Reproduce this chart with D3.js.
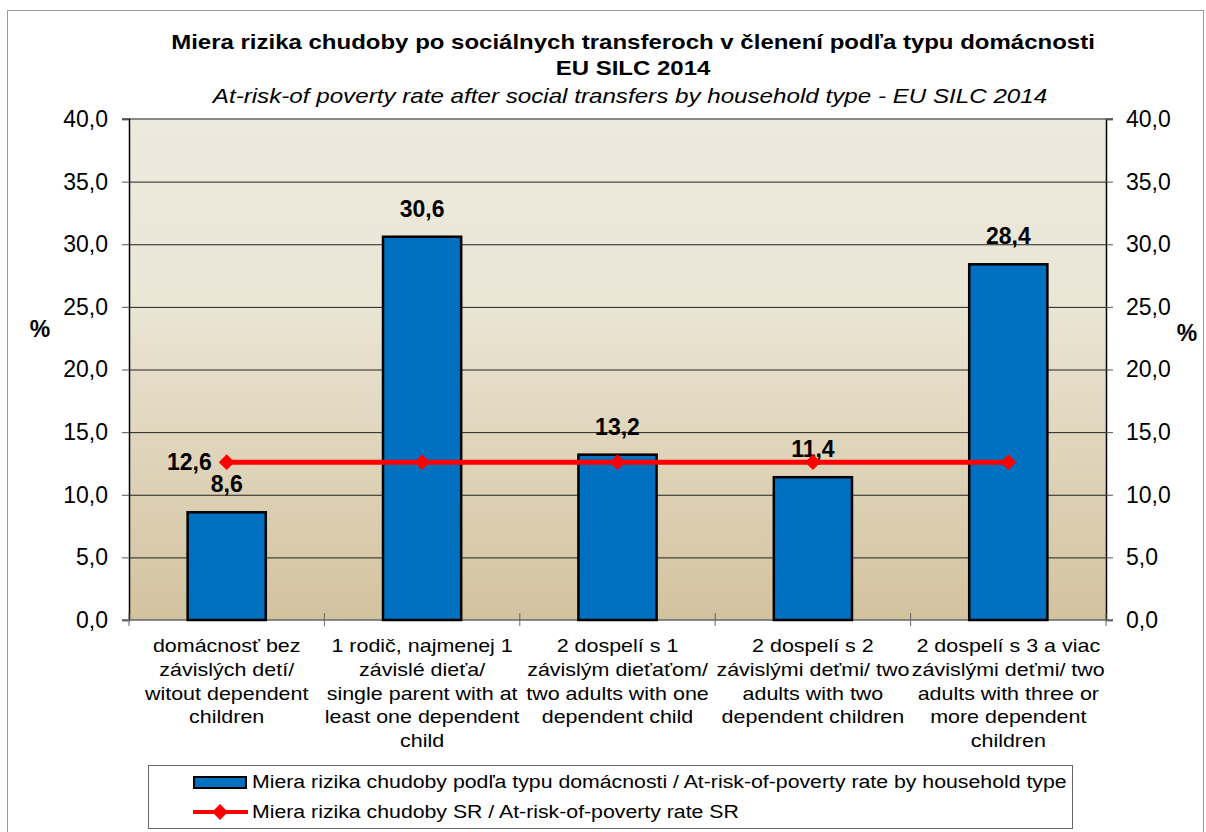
<!DOCTYPE html>
<html lang="en">
<head>
<meta charset="utf-8">
<script src="https://d3js.org/d3.v7.min.js"></script>
<style>
  body { margin: 0; background: #fff; }
  svg text { font-family: Arial, "Liberation Sans", sans-serif; fill: #000; }
</style>
</head>
<body>
<script>
// categories (each label split on lines as in the original)
const categories = [
  ["domácnosť bez", "závislých detí/", "witout dependent", "children"],
  ["1 rodič, najmenej 1", "závislé dieťa/", "single parent with at", "least one dependent", "child"],
  ["2 dospelí s 1", "závislým dieťaťom/", "two adults with one", "dependent child"],
  ["2 dospelí s 2", "závislými deťmi/ two", "adults with two", "dependent children"],
  ["2 dospelí s 3 a viac", "závislými deťmi/ two", "adults with three or", "more dependent", "children"]
];
const householdRates = [8.6, 30.6, 13.2, 11.4, 28.4];
const srRate = [12.6, 12.6, 12.6, 12.6, 12.6];
const yTicks = [0, 5, 10, 15, 20, 25, 30, 35, 40];

const titleLines = [
  "Miera rizika chudoby po sociálnych transferoch v členení podľa typu domácnosti",
  "EU SILC 2014"
];
const subTitle = "At-risk-of poverty rate after social transfers by household type - EU SILC 2014";
const legendLabels = [
  "Miera rizika chudoby podľa typu domácnosti / At-risk-of-poverty rate by household type",
  "Miera rizika chudoby SR / At-risk-of-poverty rate SR"
];

const width = 1206, height = 832;
const plot = { left: 129, right: 1106, top: 119, bottom: 620 };
const fmt = v => d3.format(".1f")(v).replace(".", ",");

// the original text is a bit wider than plain Arial, so stretch it sideways
function stretch(sel, s) {
  sel.each(function () {
    const t = d3.select(this);
    const x = +t.attr("x"), y = +t.attr("y");
    t.attr("x", 0).attr("y", 0)
      .attr("transform", `translate(${x},${y}) scale(${s},1)`);
  });
}

const svg = d3.select("body").append("svg")
  .attr("width", width).attr("height", height);

// chart frame
svg.append("rect")
  .attr("x", 7.5).attr("y", 10.5)
  .attr("width", 1196).attr("height", 830)
  .attr("fill", "#fff").attr("stroke", "#9a9a9a");

// plot background gradient
const defs = svg.append("defs");
const grad = defs.append("linearGradient")
  .attr("id", "bg").attr("x1", 0).attr("y1", 0).attr("x2", 0).attr("y2", 1);
grad.append("stop").attr("offset", "0%").attr("stop-color", "#ece9dd");
grad.append("stop").attr("offset", "35%").attr("stop-color", "#ebe6d6");
grad.append("stop").attr("offset", "100%").attr("stop-color", "#d3c29e");

const x = d3.scaleBand()
  .domain(d3.range(categories.length))
  .range([plot.left, plot.right])
  .paddingInner(0.6).paddingOuter(0.3);
const xBand = d3.scaleBand()
  .domain(d3.range(categories.length))
  .range([plot.left, plot.right]);
const y = d3.scaleLinear().domain([0, 40]).range([plot.bottom, plot.top]);

svg.append("rect")
  .attr("x", plot.left).attr("y", plot.top)
  .attr("width", plot.right - plot.left).attr("height", plot.bottom - plot.top)
  .attr("fill", "url(#bg)");

// gridlines
svg.append("g").selectAll("line")
  .data(yTicks.filter(d => d > 0 && d < 40))
  .join("line")
  .attr("x1", plot.left).attr("x2", plot.right)
  .attr("y1", d => y(d) + 0.5).attr("y2", d => y(d) + 0.5)
  .attr("stroke", "#222").attr("stroke-width", 1);

// top border of the plot
svg.append("line")
  .attr("x1", plot.left - 7).attr("x2", plot.right + 7)
  .attr("y1", plot.top).attr("y2", plot.top)
  .attr("stroke", "#888").attr("stroke-width", 2);

// left and right axes
const yLeft = d3.axisLeft(y).tickValues(yTicks).tickFormat(fmt).tickSize(7).tickPadding(14);
const gl = svg.append("g").attr("transform", `translate(${plot.left},0)`).call(yLeft);
const yRight = d3.axisRight(y).tickValues(yTicks).tickFormat(fmt).tickSize(7).tickPadding(13);
const gr = svg.append("g").attr("transform", `translate(${plot.right},0)`).call(yRight);
[gl, gr].forEach(g => {
  g.selectAll("path.domain").attr("stroke", "#000").attr("stroke-width", 1.5);
  g.selectAll(".tick line").attr("stroke", "#555");
  g.selectAll(".tick text").style("font-size", "23px").attr("fill", "#000");
});

// bottom axis with crossing ticks between categories
svg.append("line")
  .attr("x1", plot.left - 7).attr("x2", plot.right + 7)
  .attr("y1", plot.bottom).attr("y2", plot.bottom)
  .attr("stroke", "#666").attr("stroke-width", 1.5);
svg.append("g").selectAll("line")
  .data(d3.range(categories.length + 1))
  .join("line")
  .attr("x1", i => i < categories.length ? xBand(i) : plot.right)
  .attr("x2", i => i < categories.length ? xBand(i) : plot.right)
  .attr("y1", plot.bottom - 7).attr("y2", plot.bottom + 6)
  .attr("stroke", "#666");

// bars
svg.append("g").selectAll("rect")
  .data(householdRates)
  .join("rect")
  .attr("x", (d, i) => x(i))
  .attr("y", d => y(d))
  .attr("width", x.bandwidth())
  .attr("height", d => y(0) - y(d))
  .attr("fill", "#0070c0")
  .attr("stroke", "#000").attr("stroke-width", 2.5);

// bar value labels
svg.append("g").selectAll("text")
  .data(householdRates)
  .join("text")
  .attr("x", (d, i) => x(i) + x.bandwidth() / 2)
  .attr("y", d => y(d) - 20)
  .attr("text-anchor", "middle")
  .style("font-size", "23px").style("font-weight", "bold")
  .text(fmt);

// SR line
const cx = i => xBand(i) + xBand.bandwidth() / 2;
svg.append("path")
  .datum(srRate)
  .attr("d", d3.line().x((d, i) => cx(i)).y(d => y(d)))
  .attr("fill", "none").attr("stroke", "#ff0000").attr("stroke-width", 5);
const diamond = d3.symbol().type(d3.symbolDiamond2).size(160);
svg.append("g").selectAll("path")
  .data(srRate)
  .join("path")
  .attr("d", diamond)
  .attr("transform", (d, i) => `translate(${cx(i)},${y(d)})`)
  .attr("fill", "#ff0000");
svg.append("text")
  .attr("x", cx(0) - 15).attr("y", y(srRate[0]) + 8)
  .attr("text-anchor", "end")
  .style("font-size", "23px").style("font-weight", "bold")
  .text(fmt(srRate[0]));

// category labels
svg.append("g").selectAll("text")
  .data(categories)
  .join("text")
  .attr("text-anchor", "middle")
  .attr("transform", (d, i) => `translate(${cx(i)},652) scale(1.13,1)`)
  .style("font-size", "19px")
  .each(function (lines) {
    d3.select(this).selectAll("tspan")
      .data(lines)
      .join("tspan")
      .attr("x", 0)
      .attr("y", (l, k) => k * 23.8)
      .text(l => l);
  });

// axis titles
svg.append("text").attr("x", 40).attr("y", 337).attr("text-anchor", "middle")
  .style("font-size", "23px").style("font-weight", "bold").text("%");
svg.append("text").attr("x", 1187).attr("y", 341).attr("text-anchor", "middle")
  .style("font-size", "23px").style("font-weight", "bold").text("%");

// titles
svg.append("g").selectAll("text")
  .data(titleLines)
  .join("text")
  .attr("x", 633).attr("y", (d, i) => 49 + i * 26)
  .attr("text-anchor", "middle")
  .style("font-size", "20px").style("font-weight", "bold")
  .text(d => d)
  .call(stretch, 1.2);
svg.append("text")
  .attr("x", 630).attr("y", 103)
  .attr("text-anchor", "middle")
  .style("font-size", "20.5px").style("font-style", "italic")
  .text(subTitle)
  .call(stretch, 1.18);

// legend
const lg = svg.append("g");
lg.append("rect")
  .attr("x", 148.5).attr("y", 765.5).attr("width", 924).attr("height", 63)
  .attr("fill", "#fff").attr("stroke", "#666");
lg.append("rect")
  .attr("x", 194).attr("y", 777).attr("width", 52).attr("height", 11)
  .attr("fill", "#0070c0").attr("stroke", "#000").attr("stroke-width", 2);
lg.append("line")
  .attr("x1", 193).attr("x2", 248).attr("y1", 812).attr("y2", 812)
  .attr("stroke", "#ff0000").attr("stroke-width", 4);
lg.append("path").attr("d", diamond)
  .attr("transform", "translate(220,812)").attr("fill", "#ff0000");
lg.selectAll("text.leg")
  .data(legendLabels)
  .join("text")
  .attr("class", "leg")
  .attr("x", 252).attr("y", (d, i) => 788 + i * 30)
  .style("font-size", "19px")
  .text(d => d)
  .call(stretch, 1.12);
</script>
</body>
</html>
